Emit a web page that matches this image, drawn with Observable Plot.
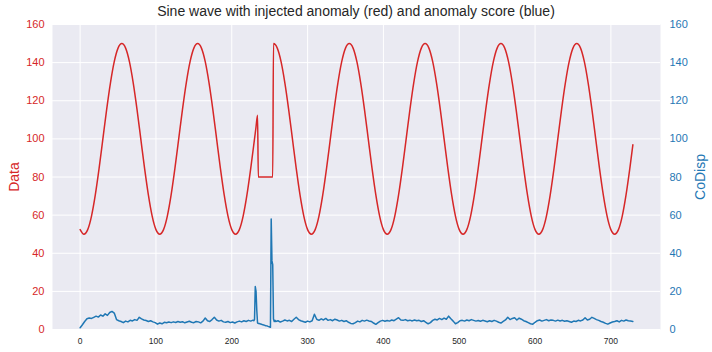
<!DOCTYPE html>
<html>
<head>
<meta charset="utf-8">
<script src="https://cdn.jsdelivr.net/npm/d3@7"></script>
<script src="https://cdn.jsdelivr.net/npm/@observablehq/plot@0.6"></script>
<style>
  body { margin: 0; background: #ffffff; }
  #wrap { position: relative; width: 712px; height: 352px; }
  #title { position: absolute; left: 0; top: 0; width: 712px; height: 22px; padding-top: 1px; line-height: 20px; text-align: center;
           font-family: "Liberation Sans", Arial, sans-serif; font-size: 14px; color: #262626; }
  #chart { position: absolute; left: 0; top: 0; }
</style>
</head>
<body>
<div id="wrap">
<div id="chart"></div>
<div id="title">Sine wave with injected anomaly (red) and anomaly score (blue)</div>
</div>
<script>
// Red series: sine values read at x = 0, 5, ..., 230
const dataA = [52.4, 50, 52.4, 59.5, 70.6, 84.5, 100, 115.5, 129.4, 140.5, 147.6, 150, 147.6, 140.5, 129.4, 115.5, 100, 84.5, 70.6, 59.5,
               52.4, 50, 52.4, 59.5, 70.6, 84.5, 100, 115.5, 129.4, 140.5, 147.6, 150, 147.6, 140.5, 129.4, 115.5, 100, 84.5, 70.6, 59.5,
               52.4, 50, 52.4, 59.5, 70.6, 84.5, 100];
// Injected anomaly
const anomX = [232, 234, 235, 254, 255];
const anomY = [106.3, 112.4, 80, 80, 150];
// Red series: x = 260, 265, ..., 725
const dataB = [147.6, 140.5, 129.4, 115.5, 100, 84.5, 70.6, 59.5, 52.4, 50, 52.4, 59.5, 70.6, 84.5, 100, 115.5, 129.4, 140.5, 147.6, 150,
               147.6, 140.5, 129.4, 115.5, 100, 84.5, 70.6, 59.5, 52.4, 50, 52.4, 59.5, 70.6, 84.5, 100, 115.5, 129.4, 140.5, 147.6, 150,
               147.6, 140.5, 129.4, 115.5, 100, 84.5, 70.6, 59.5, 52.4, 50, 52.4, 59.5, 70.6, 84.5, 100, 115.5, 129.4, 140.5, 147.6, 150,
               147.6, 140.5, 129.4, 115.5, 100, 84.5, 70.6, 59.5, 52.4, 50, 52.4, 59.5, 70.6, 84.5, 100, 115.5, 129.4, 140.5, 147.6, 150,
               147.6, 140.5, 129.4, 115.5, 100, 84.5, 70.6, 59.5, 52.4, 50, 52.4, 59.5, 70.6, 84.5];
const tailX = [729];
const tailY = [96.9];

// Blue series (CoDisp): x = 0, 3, ..., 228
const scoreA = [0.9, 2.5, 4.2, 5.6, 6.0, 5.8, 6.4, 7.0, 6.5, 7.6,
                7.0, 8.2, 7.4, 8.9, 9.5, 8.6, 5.2, 4.6, 4.2, 3.6,
                4.4, 4.0, 4.8, 4.5, 5.2, 4.8, 6.4, 5.6, 5.0, 4.7,
                4.2, 4.6, 4.0, 3.6, 2.8, 3.4, 3.0, 3.8, 3.5, 3.9,
                3.6, 4.0, 3.7, 4.2, 3.8, 4.1, 3.5, 3.9, 4.3, 3.8,
                3.6, 4.2, 4.0, 3.5, 4.4, 6.0, 4.6, 4.2, 5.2, 6.4,
                5.0, 4.4, 4.8, 4.0, 3.8, 4.2, 3.6, 3.9, 3.4, 4.0,
                4.4, 4.0, 4.6, 4.2, 4.8, 4.4, 4.9];
// x = 229, 230, ..., 257
const scoreSpike = [4.6, 5.2, 22.5, 20.0, 10.0, 3.4, 3.2, 3.1, 3.0, 2.9,
                    2.8, 2.6, 2.5, 2.4, 2.3, 2.1, 2.0, 1.9, 1.8, 1.6,
                    1.5, 1.3, 1.2, 58.0, 36.0, 34.0, 5.5, 4.2, 4.8];
// x = 258, 261, ..., 729
const scoreB = [4.2, 4.6, 3.9, 4.4, 5.0, 4.5, 4.8, 4.2, 5.4, 6.4,
                5.2, 4.6, 4.2, 3.8, 4.4, 4.0, 4.6, 8.0, 5.4, 4.8,
                5.6, 5.0, 5.8, 4.8, 5.2, 4.6, 5.4, 5.0, 4.4, 4.8,
                4.2, 4.6, 3.8, 3.2, 3.0, 3.6, 4.4, 4.0, 4.8, 4.4,
                4.9, 4.5, 4.2, 3.4, 2.7, 3.6, 4.4, 4.8, 4.3, 4.7,
                4.4, 5.0, 4.6, 5.4, 6.2, 5.0, 4.8, 5.2, 4.6, 4.9,
                4.5, 5.0, 4.6, 4.8, 4.2, 4.6, 3.8, 3.0, 3.6, 4.8,
                5.4, 5.0, 5.8, 5.2, 6.0, 5.4, 7.0, 5.6, 4.4, 3.0,
                3.6, 4.6, 4.8, 4.4, 5.0, 4.6, 5.2, 4.8, 4.4, 4.7,
                4.3, 4.8, 4.5, 4.1, 4.6, 4.2, 4.8, 4.4, 3.8, 3.4,
                4.2, 5.0, 6.4, 5.2, 5.8, 6.2, 5.0, 6.0, 5.4, 4.6,
                4.2, 3.6, 3.0, 2.8, 3.8, 4.6, 5.0, 4.4, 4.8, 5.2,
                4.6, 5.0, 4.8, 4.4, 4.9, 4.5, 4.8, 4.3, 4.6, 4.2,
                3.8, 4.4, 4.2, 4.8, 4.5, 5.0, 6.2, 5.0, 5.4, 6.4,
                5.8, 5.2, 4.8, 4.2, 3.8, 3.2, 2.8, 3.4, 3.9, 4.2,
                4.6, 4.0, 4.8, 4.4, 5.0, 4.6, 4.4, 4.2];

const xTicks = [0, 100, 200, 300, 400, 500, 600, 700];
const yTicks = [0, 20, 40, 60, 80, 100, 120, 140, 160];

const red = [
  ...dataA.map((v, i) => ({x: i * 5, y: v})),
  ...anomX.map((x, i) => ({x, y: anomY[i]})),
  ...dataB.map((v, i) => ({x: 260 + i * 5, y: v})),
  ...tailX.map((x, i) => ({x, y: tailY[i]}))
];
const blue = [
  ...scoreA.map((v, i) => ({x: i * 3, y: v})),
  ...scoreSpike.map((v, i) => ({x: 229 + i, y: v})),
  ...scoreB.map((v, i) => ({x: 258 + i * 3, y: v}))
];

const RED = "#d62728", BLUE = "#1f77b4";

const chart = Plot.plot({
  width: 712,
  height: 352,
  marginTop: 24,
  marginBottom: 23,
  marginLeft: 52,
  marginRight: 52,
  style: {fontFamily: "'Liberation Sans', Arial, sans-serif", background: "#ffffff"},
  x: {domain: [-36.45, 765.45]},
  y: {domain: [0, 160]},
  marks: [
    Plot.frame({fill: "#eaeaf2", stroke: null}),
    Plot.gridX(xTicks, {stroke: "#ffffff", strokeOpacity: 1, strokeWidth: 1}),
    Plot.gridY(yTicks, {stroke: "#ffffff", strokeOpacity: 1, strokeWidth: 1}),
    Plot.line(red, {x: "x", y: "y", stroke: RED, strokeWidth: 1.5, curve: "monotone-x"}),
    Plot.line(blue, {x: "x", y: "y", stroke: BLUE, strokeWidth: 1.5}),
    Plot.axisX(xTicks, {tickSize: 0, tickPadding: 8, fontSize: 8.5, color: "#262626", fill: "#262626", label: null}),
    Plot.axisY(yTicks, {anchor: "left", tickSize: 0, tickPadding: 8, fontSize: 11, color: RED, fill: RED, label: null}),
    Plot.axisY(yTicks, {anchor: "right", tickSize: 0, tickPadding: 9, fontSize: 11, color: BLUE, fill: BLUE, label: null}),
    Plot.text(["Data"], {frameAnchor: "left", dx: -38, rotate: -90, textAnchor: "middle", fill: RED, fontSize: 14}),
    Plot.text(["CoDisp"], {frameAnchor: "right", dx: 40, rotate: -90, textAnchor: "middle", fill: BLUE, fontSize: 14})
  ]
});
document.getElementById("chart").appendChild(chart);
</script>
</body>
</html>
